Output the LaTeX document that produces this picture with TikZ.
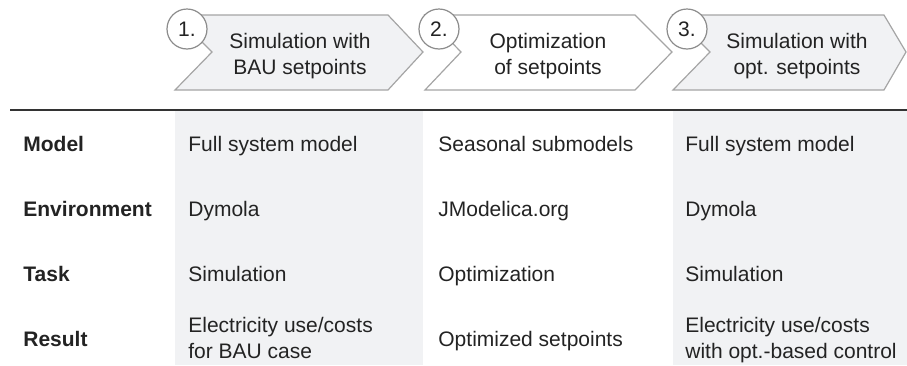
\documentclass[tikz,border=0pt]{standalone}
\usepackage{fontspec}
\setmainfont{Liberation Sans}
\definecolor{cellgray}{RGB}{241,242,244}
\definecolor{edgegray}{RGB}{165,165,165}
\definecolor{ringgray}{RGB}{140,140,140}
\definecolor{inkgray}{RGB}{35,35,35}

\begin{document}
\begin{tikzpicture}[x=0.5pt, y=0.5pt,
	every node/.style={font=\fontsize{10.5}{13}\selectfont, text=inkgray, inner sep=0pt},
	arrowbox/.style={draw=edgegray, line width=0.6pt, line join=miter},
	stepnum/.style={circle, draw=ringgray, fill=white, line width=0.6pt, minimum size=20pt},
	rowlabel/.style={anchor=base west, font=\fontsize{10.5}{13}\selectfont\bfseries},
	cell/.style={anchor=base west, align=left}]
	\useasboundingbox (0,0) rectangle (907,-365);
	% shaded columns
	\fill[cellgray] (175,-110) rectangle (423,-365);
	\fill[cellgray] (673,-110) rectangle (907,-365);
	% chevrons
	\draw[arrowbox, fill=cellgray] (175,-15) -- (388,-15) -- (423,-52) -- (388,-90) -- (175,-90) -- (212,-52) -- cycle;
	\draw[arrowbox, fill=white] (425,-15) -- (635,-15) -- (672,-52) -- (635,-90) -- (425,-90) -- (461,-52) -- cycle;
	\draw[arrowbox, fill=cellgray] (673,-15) -- (884,-15) -- (906,-52) -- (884,-90) -- (673,-90) -- (710,-52) -- cycle;
	\node[stepnum] (step1) at (187,-29) {1.};
	\node[stepnum] (step2) at (439,-29) {2.};
	\node[stepnum] (step3) at (687,-29) {3.};
	\node[align=center] (sim1) at (300,-56) {Simulation with\\BAU setpoints};
	\node[align=center] (opt2) at (548,-56) {Optimization\\of setpoints};
	\node[align=center] (sim3) at (797,-56) {Simulation with\\opt. setpoints};
	% header rule
	\draw[line width=1pt, draw=black!80] (10,-110) -- (907,-110);
	% rows
	\node[rowlabel] (model) at (23,-151) {Model};
	\node[rowlabel] (env) at (23,-216) {Environment};
	\node[rowlabel] (task) at (23,-281) {Task};
	\node[rowlabel] (result) at (23,-346) {Result};
	\node[cell] (model1) at (188,-151) {Full system model};
	\node[cell] (model2) at (438,-151) {Seasonal submodels};
	\node[cell] (model3) at (685,-151) {Full system model};
	\node[cell] (env1) at (188,-216) {Dymola};
	\node[cell] (env2) at (438,-216) {JModelica.org};
	\node[cell] (env3) at (685,-216) {Dymola};
	\node[cell] (task1) at (188,-281) {Simulation};
	\node[cell] (task2) at (438,-281) {Optimization};
	\node[cell] (task3) at (685,-281) {Simulation};
	\node[cell] (result1) at (188,-358) {Electricity use/costs\\for BAU case};
	\node[cell] (result2) at (438,-346) {Optimized setpoints};
	\node[cell] (result3) at (685,-358) {Electricity use/costs\\with opt.-based control};
\end{tikzpicture}
\end{document}
